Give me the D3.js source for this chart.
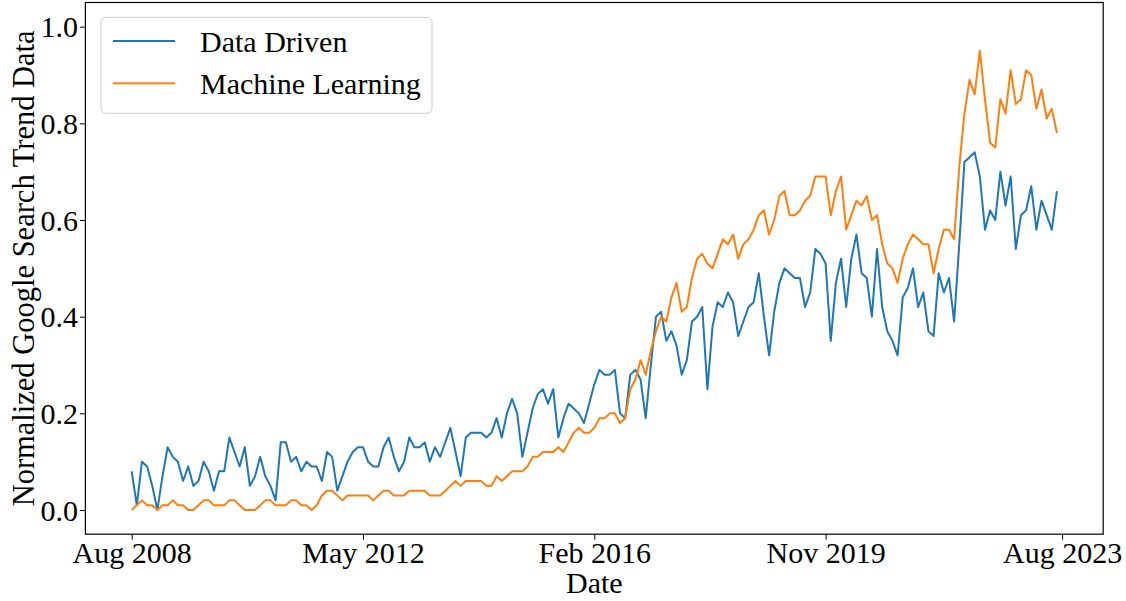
<!DOCTYPE html>
<html>
<head>
<meta charset="utf-8">
<script src="https://cdn.jsdelivr.net/npm/d3@7"></script>
<style>
  body { margin: 0; background: #ffffff; }
  text { font-family: "Liberation Serif", "Times New Roman", serif; fill: #000; }
</style>
</head>
<body>
<svg id="chart"></svg>
<script>
// monthly values, Aug 2008 .. Aug 2023 (181 months)
var dataDriven = [
  0.08,0.01,0.10,0.09,0.05,0.00,0.07,0.13,0.11,0.10,
  0.06,0.09,0.05,0.06,0.10,0.08,0.04,0.08,0.08,0.15,
  0.12,0.09,0.13,0.05,0.07,0.11,0.07,0.05,0.02,0.14,
  0.14,0.10,0.11,0.08,0.10,0.09,0.09,0.06,0.12,0.11,
  0.04,0.07,0.10,0.12,0.13,0.13,0.10,0.09,0.09,0.13,
  0.15,0.11,0.08,0.10,0.15,0.13,0.13,0.14,0.10,0.13,
  0.11,0.14,0.17,0.12,0.07,0.15,0.16,0.16,0.16,0.15,
  0.16,0.19,0.15,0.20,0.23,0.20,0.11,0.16,0.21,0.24,
  0.25,0.22,0.25,0.15,0.19,0.22,0.21,0.20,0.18,0.22,
  0.26,0.29,0.28,0.28,0.29,0.20,0.19,0.28,0.29,0.27,
  0.19,0.30,0.40,0.41,0.35,0.37,0.34,0.28,0.31,0.39,
  0.40,0.42,0.25,0.38,0.43,0.42,0.45,0.43,0.36,0.39,
  0.42,0.43,0.49,0.40,0.32,0.41,0.47,0.50,0.49,0.48,
  0.48,0.42,0.45,0.54,0.53,0.51,0.35,0.47,0.52,0.42,
  0.52,0.57,0.49,0.48,0.40,0.54,0.42,0.37,0.35,0.32,
  0.44,0.46,0.50,0.42,0.45,0.37,0.36,0.49,0.45,0.48,
  0.39,0.55,0.72,0.73,0.74,0.69,0.58,0.62,0.60,0.70,
  0.63,0.69,0.54,0.61,0.62,0.67,0.58,0.64,0.61,0.58,
  0.66
];

var machineLearning = [
  0.00,0.01,0.02,0.01,0.01,0.00,0.01,0.01,0.02,0.01,
  0.01,0.00,0.00,0.01,0.02,0.02,0.01,0.01,0.01,0.02,
  0.02,0.01,0.00,0.00,0.00,0.01,0.02,0.02,0.01,0.01,
  0.01,0.02,0.02,0.01,0.01,0.00,0.01,0.03,0.04,0.04,
  0.03,0.02,0.03,0.03,0.03,0.03,0.03,0.02,0.03,0.04,
  0.04,0.03,0.03,0.03,0.04,0.04,0.04,0.04,0.03,0.03,
  0.03,0.04,0.05,0.06,0.05,0.06,0.06,0.06,0.06,0.05,
  0.05,0.07,0.06,0.07,0.08,0.08,0.08,0.09,0.11,0.11,
  0.12,0.12,0.12,0.13,0.12,0.14,0.16,0.17,0.16,0.16,
  0.17,0.19,0.19,0.20,0.20,0.18,0.19,0.25,0.27,0.31,
  0.28,0.33,0.37,0.40,0.39,0.44,0.47,0.41,0.42,0.48,
  0.52,0.53,0.51,0.50,0.53,0.56,0.55,0.57,0.52,0.55,
  0.56,0.58,0.61,0.62,0.57,0.60,0.65,0.66,0.61,0.61,
  0.62,0.64,0.65,0.69,0.69,0.69,0.61,0.66,0.69,0.58,
  0.61,0.64,0.63,0.65,0.60,0.61,0.55,0.51,0.50,0.47,
  0.52,0.55,0.57,0.56,0.55,0.55,0.49,0.54,0.58,0.58,
  0.56,0.71,0.82,0.89,0.86,0.95,0.85,0.76,0.75,0.85,
  0.82,0.91,0.84,0.85,0.91,0.90,0.83,0.87,0.81,0.83,
  0.78
];

var seriesNames = ["Data Driven", "Machine Learning"];
var seriesColors = ["#1f77b4", "#ff7f0e"];

// x ticks are month indexes from Aug 2008
var xTickIndex = [0, 45, 90, 135, 181];
var xTickLabels = ["Aug 2008", "May 2012", "Feb 2016", "Nov 2019", "Aug 2023"];
var yTicks = [0.0, 0.2, 0.4, 0.6, 0.8, 1.0];

var width = 1126;
var height = 601;

var frame =
{
  left: 85.4,
  right: 1103.2,
  top: 2.5,
  bottom: 534.2
}

var svg = d3.select("#chart")
  .attr("width", width)
  .attr("height", height)

var n = dataDriven.length;
var pad = (n - 1) * 0.05;

var xScale = d3.scaleLinear()
  .domain([-pad, n - 1 + pad])
  .range([frame.left, frame.right])

var yScale = d3.scaleLinear()
  .domain([-0.05, 1.05])
  .range([frame.bottom, frame.top])

var drawLine = d3.line()
  .x(function(d,i){return xScale(i);})
  .y(function(d){return yScale(d);})

var allSeries = [dataDriven, machineLearning];

svg.selectAll("path.series")
   .data(allSeries)
   .enter()
   .append("path")
   .attr("class", "series")
   .attr("d", drawLine)
   .attr("fill", "none")
   .attr("stroke", function(d,i){return seriesColors[i];})
   .attr("stroke-width", 2)
   .attr("stroke-linejoin", "round")

// axes
var xAxis = d3.axisBottom(xScale)
  .tickValues(xTickIndex)
  .tickFormat(function(d,i){return xTickLabels[i];})
  .tickSize(5.5)
  .tickPadding(2)

var yAxis = d3.axisLeft(yScale)
  .tickValues(yTicks)
  .tickFormat(d3.format(".1f"))
  .tickSize(5.5)
  .tickPadding(2)

var gx = svg.append("g")
  .attr("transform", "translate(0," + frame.bottom + ")")
  .call(xAxis)

gx.select(".domain").remove();
gx.selectAll("line").attr("stroke", "#000").attr("stroke-width", 1);
gx.selectAll("text")
  .attr("y", 29)
  .attr("dy", 0)
  .style("font-size", "30px")
  .style("font-family", "Liberation Serif, serif")

var gy = svg.append("g")
  .attr("transform", "translate(" + frame.left + ",0)")
  .call(yAxis)

gy.select(".domain").remove();
gy.selectAll("line").attr("stroke", "#000").attr("stroke-width", 1);
gy.selectAll("text")
  .attr("dy", "0.34em")
  .style("font-size", "30px")
  .style("font-family", "Liberation Serif, serif")

// frame
svg.append("rect")
   .attr("x", frame.left)
   .attr("y", frame.top)
   .attr("width", frame.right - frame.left)
   .attr("height", frame.bottom - frame.top)
   .attr("fill", "none")
   .attr("stroke", "#000")
   .attr("stroke-width", 1.2)

// axis labels
svg.append("text")
   .attr("x", (frame.left + frame.right) / 2)
   .attr("y", 593)
   .attr("text-anchor", "middle")
   .style("font-size", "30px")
   .text("Date")

svg.append("text")
   .attr("transform", "translate(34," + ((frame.top + frame.bottom) / 2) + ") rotate(-90)")
   .attr("text-anchor", "middle")
   .style("font-size", "30.5px")
   .text("Normalized Google Search Trend Data")

// legend
var legend = svg.append("g")

legend.append("rect")
   .attr("x", 101)
   .attr("y", 17.3)
   .attr("width", 331)
   .attr("height", 96)
   .attr("rx", 5)
   .attr("fill", "#ffffff")
   .attr("fill-opacity", 0.8)
   .attr("stroke", "#cccccc")
   .attr("stroke-width", 1)

var items = legend.selectAll("g.item")
   .data(seriesNames)
   .enter()
   .append("g")
   .attr("class", "item")
   .attr("transform", function(d,i){return "translate(0," + (41 + i * 42.3) + ")";})

items.append("line")
   .attr("x1", 113)
   .attr("x2", 175)
   .attr("stroke", function(d,i){return seriesColors[i];})
   .attr("stroke-width", 2)

items.append("text")
   .attr("x", 200)
   .attr("y", 11)
   .style("font-size", "30px")
   .text(function(d){return d;})
</script>
</body>
</html>
